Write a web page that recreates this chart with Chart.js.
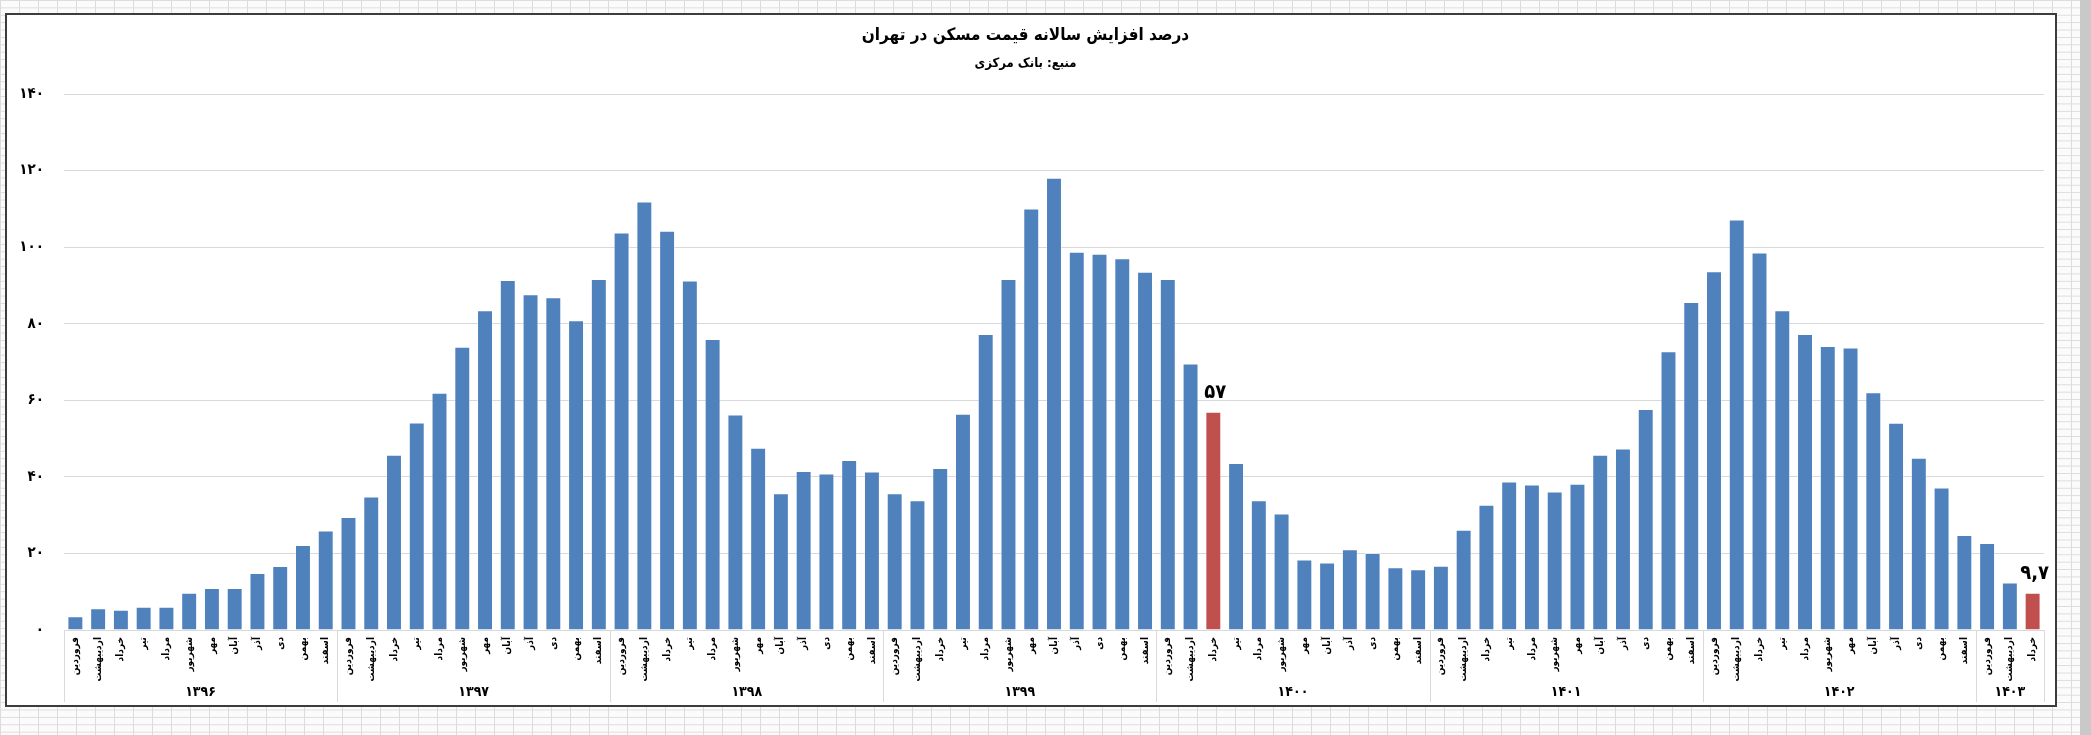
<!DOCTYPE html>
<html>
<head>
<meta charset="utf-8">
<script src="https://cdn.jsdelivr.net/npm/chart.js@4.4.1/dist/chart.umd.min.js"></script>
<style>
  html, body { margin: 0; padding: 0; }
  body {
    width: 2091px; height: 735px; overflow: hidden; position: relative;
    background-color: #fbfbfb;
    background-image: linear-gradient(#dcdcdc 1px, transparent 1px), linear-gradient(90deg, #dcdcdc 1px, transparent 1px);
    background-size: 19px 7.4px;
  }
  #frame { position: absolute; left: 5px; top: 13px; width: 2048px; height: 690px; border: 2px solid #3c3c3c; background: #fff; }
  #scroll { position: absolute; left: 2080px; top: 0; width: 11px; height: 735px; background: #c9c9c9; }
</style>
</head>
<body>
<div id="frame"><canvas id="housing" width="2048" height="690"></canvas></div>
<div id="scroll"></div>
<script>
const months = ["فروردین", "اردیبهشت", "خرداد", "تیر", "مرداد", "شهریور", "مهر", "آبان", "آذر", "دی", "بهمن", "اسفند"];
const years = ["۱۳۹۶", "۱۳۹۷", "۱۳۹۸", "۱۳۹۹", "۱۴۰۰", "۱۴۰۱", "۱۴۰۲", "۱۴۰۳"];
const monthsInYear = [12, 12, 12, 12, 12, 12, 12, 3];

// annual growth of Tehran housing price, percent
const growth = [
  3.6, 5.7, 5.3, 6.1, 6.1, 9.7, 11.0, 11.0, 14.9, 16.7, 22.2, 26.0,
  29.5, 34.9, 45.8, 54.2, 62.0, 74.0, 83.5, 91.4, 87.7, 86.9, 80.9, 91.7,
  103.8, 111.9, 104.3, 91.3, 76.0, 56.3, 47.6, 35.7, 41.5, 40.9, 44.4, 41.4,
  35.7, 33.9, 42.3, 56.5, 77.3, 91.7, 110.1, 118.1, 98.8, 98.3, 97.1, 93.6,
  91.7, 69.6, 57.0, 43.6, 33.9, 30.4, 18.4, 17.6, 21.1, 20.1, 16.4, 15.9,
  16.8, 26.2, 32.7, 38.8, 38.0, 36.2, 38.2, 45.8, 47.4, 57.7, 72.8, 85.7,
  93.7, 107.2, 98.6, 83.5, 77.3, 74.2, 73.8, 62.1, 54.1, 45.0, 37.2, 24.8,
  22.7, 12.4, 9.7
];

const yTickLabels = ["۰", "۲۰", "۴۰", "۶۰", "۸۰", "۱۰۰", "۱۲۰", "۱۴۰"];
const calloutIndex = [50, 86];
const calloutText = ["۵۷", "۹,۷"];

const FONT = "'DejaVu Sans Condensed', 'DejaVu Sans', sans-serif";
const BLUE = "#4f81bd";
const RED = "#c0504d";

// one category per month, year kept alongside for the second axis row
const labels = [];
years.forEach((y, k) => {
  for (let m = 0; m < monthsInYear[k]; m++) labels.push(months[m]);
});

const barColors = growth.map((v, i) => calloutIndex.includes(i) ? RED : BLUE);

// year row under the month labels, with separators like the spreadsheet axis
const yearRow = {
  id: "yearRow",
  afterDraw(chart) {
    const ctx = chart.ctx;
    const x = chart.scales.x;
    const step = x.getPixelForValue(1) - x.getPixelForValue(0);
    const top = x.top;
    const bottom = chart.height - 3;
    ctx.save();
    ctx.strokeStyle = "#d9d9d9";
    ctx.lineWidth = 1;
    ctx.beginPath();
    ctx.moveTo(x.left, top + 0.5);
    ctx.lineTo(x.right, top + 0.5);
    ctx.stroke();
    let start = 0;
    years.forEach((y, k) => {
      const left = x.getPixelForValue(start) - step / 2;
      const right = x.getPixelForValue(start + monthsInYear[k] - 1) + step / 2;
      ctx.beginPath();
      ctx.moveTo(Math.round(left) + 0.5, top);
      ctx.lineTo(Math.round(left) + 0.5, bottom);
      if (k === years.length - 1) {
        ctx.moveTo(Math.round(right) + 0.5, top);
        ctx.lineTo(Math.round(right) + 0.5, bottom);
      }
      ctx.stroke();
      ctx.fillStyle = "#000";
      ctx.font = "bold 14px " + FONT;
      ctx.textAlign = "center";
      ctx.textBaseline = "middle";
      ctx.fillText(y, (left + right) / 2, bottom - 10);
      start += monthsInYear[k];
    });
    ctx.restore();
  }
};

// value callouts over the highlighted bars
const callouts = {
  id: "callouts",
  afterDatasetsDraw(chart) {
    const ctx = chart.ctx;
    const bars = chart.getDatasetMeta(0).data;
    ctx.save();
    ctx.fillStyle = "#000";
    ctx.font = "bold 20px " + FONT;
    ctx.textAlign = "center";
    ctx.textBaseline = "bottom";
    calloutIndex.forEach((idx, j) => {
      const bar = bars[idx];
      ctx.fillText(calloutText[j], bar.x + 2, bar.y - 9);
    });
    ctx.restore();
  }
};

new Chart(document.getElementById("housing"), {
  type: "bar",
  data: {
    labels: labels,
    datasets: [{
      data: growth,
      backgroundColor: barColors,
      borderColor: "rgba(255,255,255,0.35)",
      borderWidth: 1,
      barPercentage: 0.7,
      categoryPercentage: 1.0
    }]
  },
  options: {
    responsive: false,
    animation: false,
    layout: { padding: { left: 0, right: 11, top: 0, bottom: 0 } },
    plugins: {
      legend: { display: false },
      tooltip: { enabled: false },
      title: {
        display: true,
        text: "درصد افزایش سالانه قیمت مسکن در تهران",
        color: "#000",
        font: { family: FONT, size: 17, weight: "bold" },
        padding: { top: 10, bottom: 10 }
      },
      subtitle: {
        display: true,
        text: "منبع: بانک مرکزی",
        color: "#000",
        font: { family: FONT, size: 13, weight: "bold" },
        padding: { top: 0, bottom: 23 }
      }
    },
    scales: {
      x: {
        grid: { display: false, drawTicks: false },
        border: { display: false },
        ticks: {
          autoSkip: false,
          minRotation: 90,
          maxRotation: 90,
          padding: 7,
          color: "#000",
          font: { family: FONT, size: 10, weight: "bold" }
        },
        afterFit(scale) { scale.height = 75; }
      },
      y: {
        min: 0,
        max: 140,
        grid: { color: "#d9d9d9", drawTicks: false },
        border: { display: false },
        ticks: {
          stepSize: 20,
          padding: 20,
          color: "#000",
          font: { family: FONT, size: 15, weight: "bold" },
          callback: (v) => yTickLabels[v / 20]
        },
        afterFit(scale) { scale.width = 57; }
      }
    }
  },
  plugins: [yearRow, callouts]
});
</script>
</body>
</html>
